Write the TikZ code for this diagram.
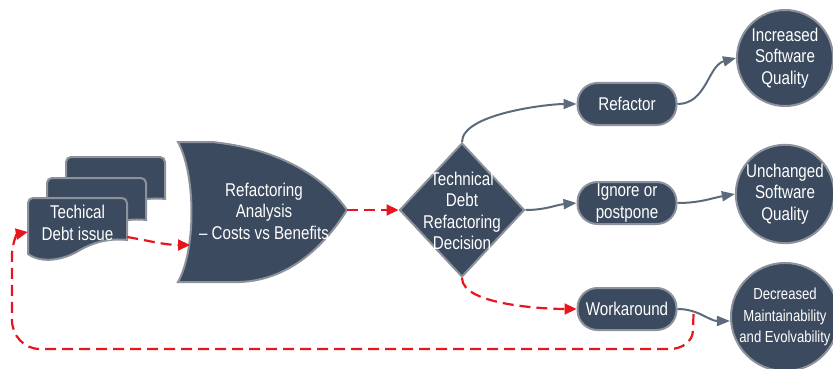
\documentclass[tikz,border=0pt]{standalone}
\usepackage{fontspec}
\setmainfont[FakeStretch=0.82]{Liberation Sans}
\usetikzlibrary{shapes.geometric,arrows.meta,calc}
\definecolor{fillc}{RGB}{59,74,94}
\definecolor{edgec}{RGB}{140,146,155}
\definecolor{arrc}{RGB}{92,106,124}
\definecolor{redc}{RGB}{232,22,28}
\begin{document}
\begin{tikzpicture}[x=1pt,y=1pt,
  shp/.style={fill=fillc, draw=edgec, line width=2pt},
  txt/.style={text=white, align=center, font=\fontsize{18.5}{21.5}\selectfont, inner sep=0pt},
  pill/.style={shp, txt, rounded corners=20pt, minimum width=99pt, minimum height=42pt},
  outc/.style={shp, txt, circle, minimum size=96pt},
  garrow/.style={draw=arrc, line width=2pt, -{Triangle[length=13pt,width=10pt]}},
  rarrow/.style={draw=redc, line width=2.2pt, dash pattern=on 11pt off 6pt, -{Triangle[length=12pt,width=11pt]}},
  docpic/.pic={\path[shp] (0,-56) -- (0,-5) to[out=90,in=180] (5,0) -- (94,0) to[out=0,in=90] (99,-5) -- (99,-42)
      .. controls (82,-40) and (66,-44) .. (52,-52) .. controls (36,-62) and (14,-66) .. (0,-56) -- cycle;}
]
\useasboundingbox (0,0) rectangle (833,-369);
% document stack
\pic at (66,-157) {docpic};
\pic at (47,-178) {docpic};
\pic at (28,-198) {docpic};
\node[txt, minimum width=99pt] (doc) at (77.5,-223) {Techical\\Debt issue};
% analysis shape
\path[shp] (178,-142) -- (212,-142) .. controls (290,-150) and (330,-185) .. (347,-210)
   .. controls (325,-245) and (290,-280) .. (240,-282) -- (178,-282)
   .. controls (196,-250) and (196,-175) .. (178,-142) -- cycle;
\coordinate (anatip) at (347,-210);
\coordinate (anain) at (190,-245);
\node[txt] (ana) at (264,-211) {Refactoring\\Analysis\\– Costs vs Benefits};
% decision
\node[shp, diamond, aspect=0.93, minimum width=125pt, minimum height=134pt, inner sep=0pt] (dec) at (462,-210) {};
\node[txt] (dectxt) at (462,-211) {Technical\\Debt\\Refactoring\\Decision};
% options
\node[pill] (ref) at (627,-104) {Refactor};
\node[pill] (ign) at (627,-203) {Ignore or\\postpone};
\node[pill] (work) at (627,-309) {Workaround};
% outcomes
\node[outc] (inc) at (785,-58) {Increased\\Software\\Quality};
\node[outc] (unc) at (785,-194) {Unchanged\\Software\\Quality};
\node[outc, font=\fontsize{16}{21.5}\selectfont] (decr) at (785,-317) {Decreased\\Maintainability\\and Evolvability};
% grey connectors
\draw[garrow] (dec.north) to[out=90,in=180,looseness=0.6] (ref.west);
\draw[garrow] (dec.east) to[out=0,in=185] (ign.west);
\draw[garrow] (ref.east) to[out=0,in=195] (inc.west);
\draw[garrow] (ign.east) to[out=0,in=190] (unc.west);
\draw[garrow] (work.east) to[out=0,in=180] ([yshift=-4]decr.west);
% red connectors
\draw[rarrow] ([yshift=-14]doc.east) to[out=-10,in=180] (anain);
\draw[rarrow] (anatip) -- (dec.west);
\draw[rarrow] (dec.south) to[out=-90,in=180,looseness=0.6] (work.west);
\coordinate (fb) at ($(work.east)+(16,-5)$);
\draw[rarrow] (fb) -- (693,-330) to[out=-90,in=0] (670,-349) -- (40,-349)
   to[out=180,in=-90] (12,-320) -- (12,-255) to[out=90,in=190] ([yshift=-9]doc.west);
\end{tikzpicture}
\end{document}
